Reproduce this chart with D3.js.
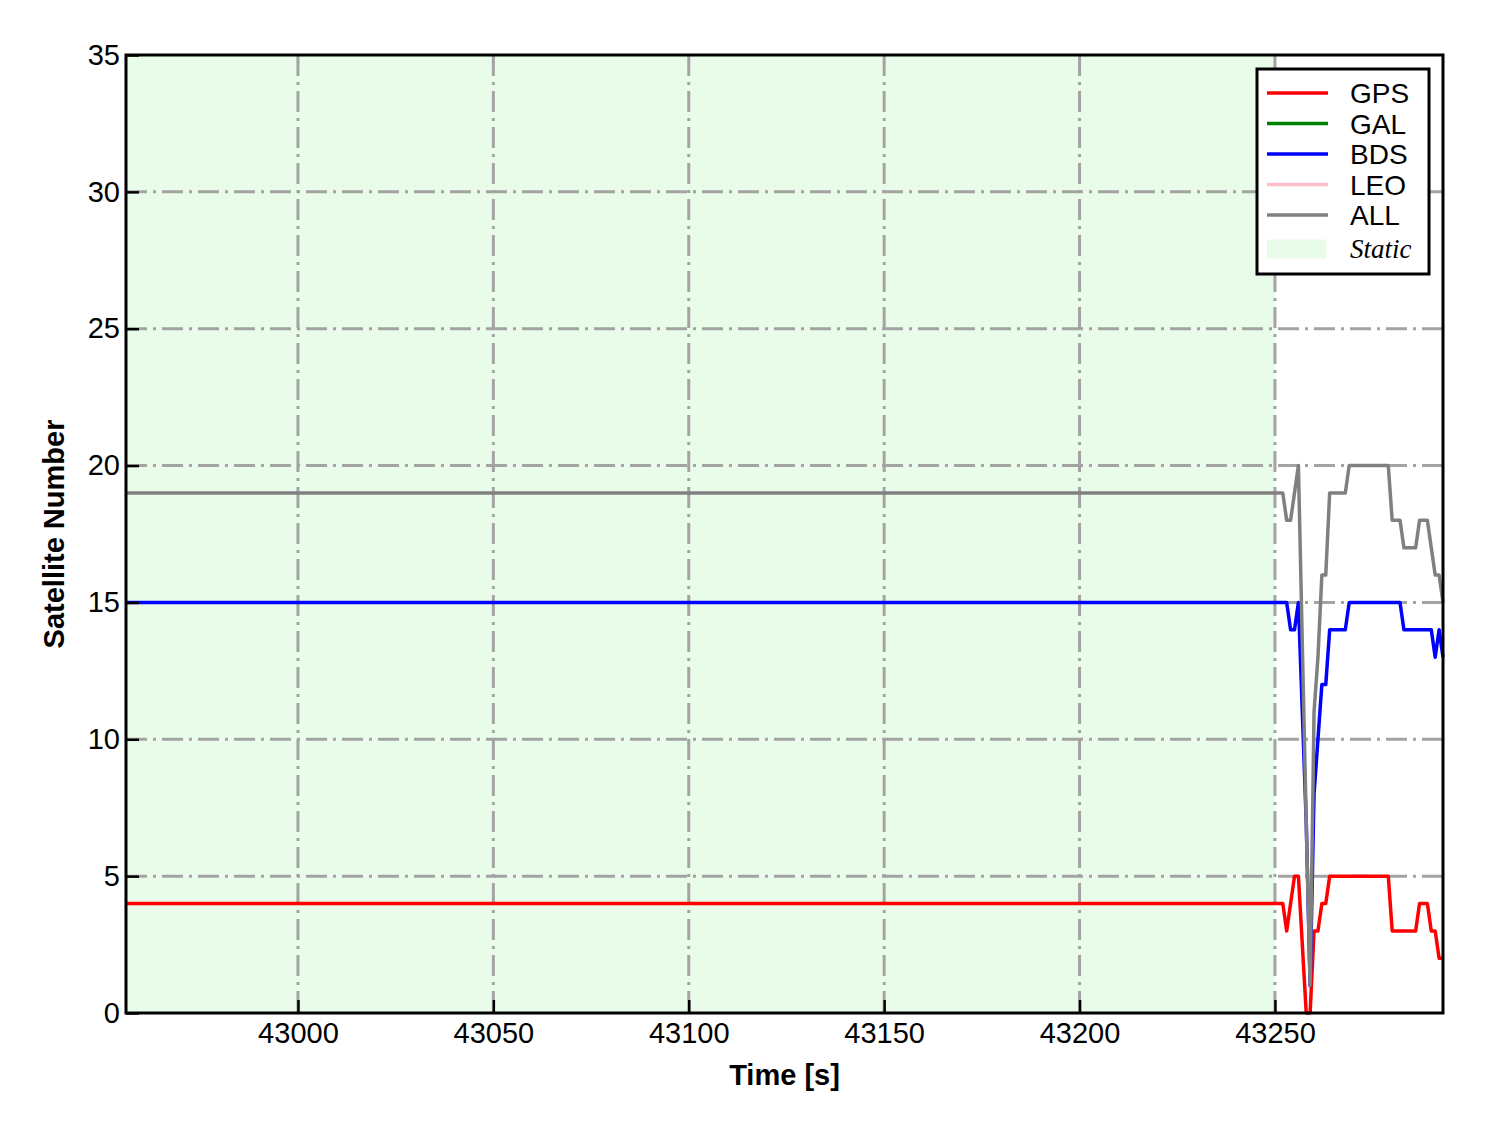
<!DOCTYPE html>
<html>
<head>
<meta charset="utf-8">
<script src="https://d3js.org/d3.v7.min.js"></script>
<style>
  body { margin: 0; background: #fff; }
  svg { display: block; }
</style>
</head>
<body>
<div id="chart"></div>
<script>
// time points (s), first one is the start of the record
var time = [42956, 43250, 43251, 43252, 43253, 43254, 43255, 43256, 43258, 43259,
            43260, 43261, 43262, 43263, 43264, 43265, 43266, 43267, 43268, 43269,
            43270, 43271, 43272, 43273, 43274, 43275, 43276, 43277, 43278, 43279,
            43280, 43281, 43282, 43283, 43284, 43285, 43286, 43287, 43288, 43289,
            43290, 43291, 43292, 43293];

var gps = [4, 4, 4, 4, 3, 4, 5, 5, 0, 0,
           3, 3, 4, 4, 5, 5, 5, 5, 5, 5,
           5, 5, 5, 5, 5, 5, 5, 5, 5, 5,
           3, 3, 3, 3, 3, 3, 3, 4, 4, 4,
           3, 3, 2, 2];

var bds = [15, 15, 15, 15, 15, 14, 14, 15, 7, 1,
           8, 10, 12, 12, 14, 14, 14, 14, 14, 15,
           15, 15, 15, 15, 15, 15, 15, 15, 15, 15,
           15, 15, 15, 14, 14, 14, 14, 14, 14, 14,
           14, 13, 14, 13];

var all = [19, 19, 19, 19, 18, 18, 19, 20, 7, 1,
           11, 13, 16, 16, 19, 19, 19, 19, 19, 20,
           20, 20, 20, 20, 20, 20, 20, 20, 20, 20,
           18, 18, 18, 17, 17, 17, 17, 18, 18, 18,
           17, 16, 16, 15];

var series = [
  {name: "GPS", color: "#ff0000", values: gps},
  {name: "GAL", color: "#008000", values: null},
  {name: "BDS", color: "#0000ff", values: bds},
  {name: "LEO", color: "#ffc0cb", values: null},
  {name: "ALL", color: "#808080", values: all}
];

var staticSpan = [42956, 43250];
var xTicks = [43000, 43050, 43100, 43150, 43200, 43250];
var yTicks = [0, 5, 10, 15, 20, 25, 30, 35];

var sans = "'Liberation Sans', Arial, sans-serif";
var serif = "'Liberation Serif', 'Times New Roman', serif";

var W = 1488, H = 1133;
var margin = {top: 55, right: 45, bottom: 120, left: 126};
var width = W - margin.left - margin.right;
var height = H - margin.top - margin.bottom;

var svg = d3.select("#chart").append("svg")
    .attr("width", W)
    .attr("height", H)
    .style("font-family", sans);

var g = svg.append("g")
    .attr("transform", "translate(" + margin.left + "," + margin.top + ")");

var x = d3.scaleLinear().domain([42956, 43293]).range([0, width]);
var y = d3.scaleLinear().domain([0, 35]).range([height, 0]);

// static period shading
g.append("rect")
    .attr("x", x(staticSpan[0]))
    .attr("y", 0)
    .attr("width", x(staticSpan[1]) - x(staticSpan[0]))
    .attr("height", height)
    .attr("fill", "#e9fce9");

// grid
var gridStyle = function(sel) {
  sel.attr("stroke", "#a3a3a3")
     .attr("stroke-width", 3)
     .attr("stroke-dasharray", "21,6,3,6");
};
g.selectAll(".vgrid").data(xTicks).enter().append("line")
    .attr("class", "vgrid")
    .attr("x1", function(d) { return x(d); })
    .attr("x2", function(d) { return x(d); })
    .attr("y1", 0).attr("y2", height)
    .call(gridStyle);
g.selectAll(".hgrid").data(yTicks.slice(1, -1)).enter().append("line")
    .attr("class", "hgrid")
    .attr("x1", 0).attr("x2", width)
    .attr("y1", function(d) { return y(d); })
    .attr("y2", function(d) { return y(d); })
    .call(gridStyle);

// lines
var line = d3.line()
    .x(function(d) { return x(d[0]); })
    .y(function(d) { return y(d[1]); });

series.forEach(function(s) {
  if (!s.values) return;
  g.append("path")
      .datum(d3.zip(time, s.values))
      .attr("fill", "none")
      .attr("stroke", s.color)
      .attr("stroke-width", 3.5)
      .attr("stroke-linejoin", "round")
      .attr("d", line);
});

// axes with inward ticks
var xAxis = g.append("g")
    .attr("transform", "translate(0," + height + ")")
    .call(d3.axisBottom(x).tickValues(xTicks).tickFormat(d3.format("d")).tickSizeInner(-13).tickSizeOuter(0).tickPadding(20));
var yAxis = g.append("g")
    .call(d3.axisLeft(y).tickValues(yTicks).tickSizeInner(-13).tickSizeOuter(0).tickPadding(20));

[xAxis, yAxis].forEach(function(a) {
  a.attr("font-family", null).attr("font-size", null);
  a.select(".domain").remove();
  a.selectAll(".tick line").attr("stroke", "#000").attr("stroke-width", 2.5);
  a.selectAll(".tick text")
      .style("font-size", "29px")
      .style("font-family", sans)
      .attr("fill", "#000");
});
yAxis.selectAll(".tick text").attr("x", -6);
xAxis.selectAll(".tick text").attr("y", 9);

// frame
g.append("rect")
    .attr("width", width).attr("height", height)
    .attr("fill", "none")
    .attr("stroke", "#000")
    .attr("stroke-width", 3);

// axis titles
svg.append("text")
    .attr("x", margin.left + width / 2)
    .attr("y", 1085)
    .attr("text-anchor", "middle")
    .style("font-size", "29px")
    .style("font-weight", "bold")
    .text("Time [s]");

svg.append("text")
    .attr("transform", "translate(64," + (margin.top + height / 2) + ") rotate(-90)")
    .attr("text-anchor", "middle")
    .style("font-size", "29px")
    .style("font-weight", "bold")
    .text("Satellite Number");

// legend
var lg = svg.append("g").attr("transform", "translate(1257,69)");
lg.append("rect")
    .attr("width", 172).attr("height", 205)
    .attr("fill", "#fff")
    .attr("stroke", "#000")
    .attr("stroke-width", 3);

var rowH = 30.5;
series.forEach(function(s, i) {
  var yy = 24 + i * rowH;
  lg.append("line")
      .attr("x1", 10).attr("x2", 71)
      .attr("y1", yy).attr("y2", yy)
      .attr("stroke", s.color)
      .attr("stroke-width", 3.5);
  lg.append("text")
      .attr("x", 93).attr("y", yy + 10)
      .style("font-size", "28px")
      .text(s.name);
});
var sy = 24 + 5 * rowH + 4;
lg.append("rect")
    .attr("x", 10).attr("y", sy - 10)
    .attr("width", 59).attr("height", 19)
    .attr("fill", "#e9fce9");
lg.append("text")
    .attr("x", 93).attr("y", sy + 8)
    .style("font-size", "27px")
    .style("font-style", "italic")
    .style("font-family", serif)
    .text("Static");
</script>
</body>
</html>
